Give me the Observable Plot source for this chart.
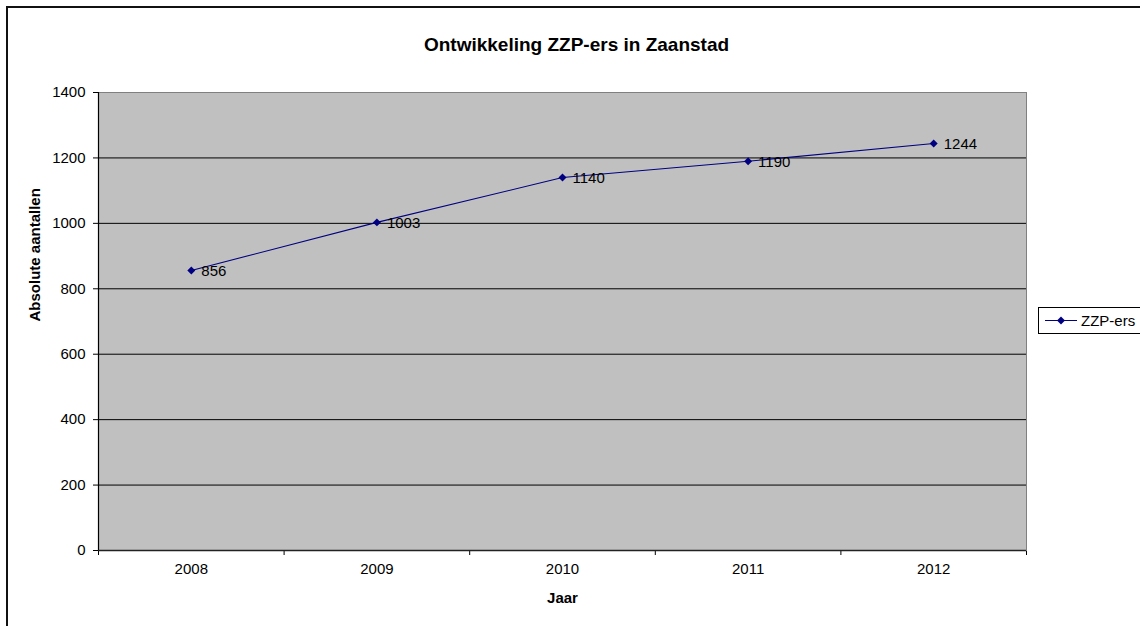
<!DOCTYPE html>
<html><head><meta charset="utf-8">
<script src="https://cdn.jsdelivr.net/npm/d3@7"></script>
<script src="https://cdn.jsdelivr.net/npm/@observablehq/plot@0.6"></script>
<style>
body{margin:0;background:#fff;font-family:"Liberation Sans",Arial,sans-serif;}
#wrap{position:relative;width:1140px;height:626px;overflow:hidden;background:#fff;}
#border{position:absolute;left:6px;top:6px;width:1150px;height:650px;border:2px solid #111;box-sizing:border-box;pointer-events:none;}
#legend{position:absolute;left:1038px;top:307px;width:130px;height:27px;border:1px solid #000;background:#fff;box-sizing:border-box;}
#legend svg{position:absolute;left:0;top:0;}
#legend span{position:absolute;left:42px;top:0;line-height:25px;font-size:15px;color:#000;white-space:nowrap;}
</style></head>
<body>
<div id="wrap"><div id="chart"></div><div id="border"></div>
<div id="legend"><svg width="40" height="25"><line x1="6" x2="38" y1="12.5" y2="12.5" stroke="#000080" stroke-width="1"/><path d="M22,8.5L26,12.5L22,16.5L18,12.5Z" fill="#000080"/></svg><span>ZZP-ers</span></div>
</div>
<script>
const years = [2008, 2009, 2010, 2011, 2012];
const counts = [856, 1003, 1140, 1190, 1244];
const yTicks = [0, 200, 400, 600, 800, 1000, 1200, 1400];
const title = "Ontwikkeling ZZP-ers in Zaanstad";
const xLabel = "Jaar";
const yLabel = "Absolute aantallen";

const data = years.map((year, i) => ({year, count: counts[i]}));
const bounds = [...years.map(y => y - 0.5), years[years.length - 1] + 0.5];

const chart = Plot.plot({
  width: 1140, height: 626,
  marginLeft: 98, marginRight: 114, marginTop: 92, marginBottom: 76,
  style: {fontFamily: '"Liberation Sans", Arial, sans-serif', fontSize: "15px", color: "#000", background: "transparent"},
  x: {domain: [bounds[0], bounds[bounds.length - 1]], ticks: bounds, tickFormat: () => "", tickSize: 5, label: null},
  y: {domain: [0, 1400], ticks: yTicks, tickFormat: d => String(d), tickSize: 5, tickPadding: 8, label: null},
  marks: [
    Plot.frame({fill: "#c0c0c0", stroke: "#808080"}),
    Plot.ruleY(yTicks.filter(v => v > 0 && v < 1400), {stroke: "#000", strokeWidth: 1}),
    Plot.ruleX([bounds[0]], {stroke: "#000", strokeWidth: 1.2}),
    Plot.ruleY([0], {stroke: "#222", strokeWidth: 1.6}),
    Plot.line(data, {x: "year", y: "count", stroke: "#000080", strokeWidth: 1.1}),
    Plot.dot(data, {x: "year", y: "count", symbol: "diamond2", fill: "#000080", stroke: "none", r: 3.6}),
    Plot.text(data, {x: "year", y: "count", text: d => String(d.count), textAnchor: "start", dx: 10, dy: 1, fill: "#000"}),
    Plot.text(years, {x: d => d, frameAnchor: "bottom", dy: 23, text: d => String(d), fill: "#000"}),
    Plot.text([xLabel], {frameAnchor: "bottom", dy: 52, fontWeight: "bold", fill: "#000"}),
    Plot.text([yLabel], {frameAnchor: "left", dx: -63, rotate: -90, fontWeight: "bold", fill: "#000"}),
    Plot.text([title], {frameAnchor: "top", dx: 14, dy: -55, fontWeight: "bold", fontSize: 19, fill: "#000"})
  ]
});
document.getElementById("chart").appendChild(chart);
</script>
</body></html>
